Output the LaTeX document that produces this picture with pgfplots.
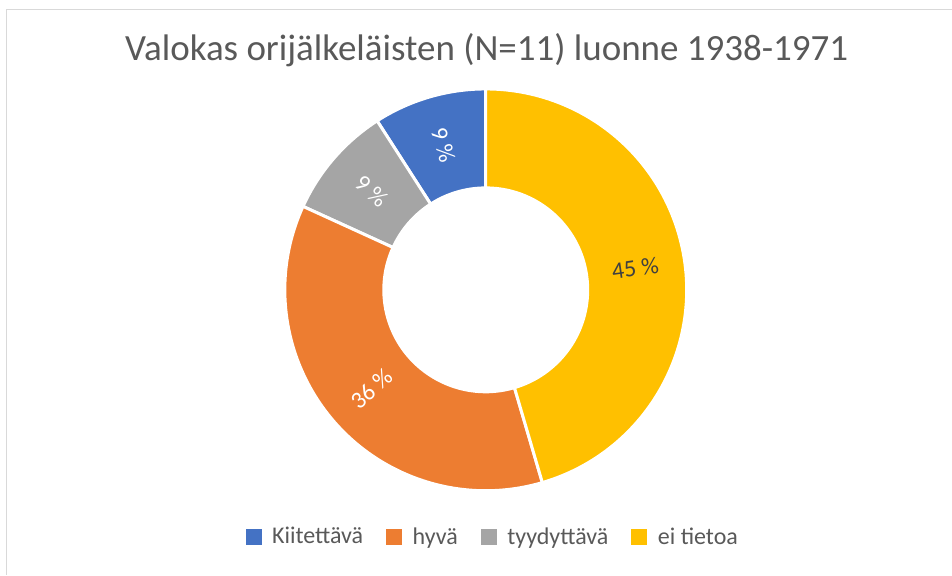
\documentclass[border=0pt]{standalone}
\usepackage{pgfplots}
\pgfplotsset{compat=1.18}
\usepackage{pgfplotstable}
\usepackage{fontspec}
\setmainfont{Carlito}
\usetikzlibrary{calc}

\definecolor{cKii}{HTML}{4472C4}
\definecolor{cHyv}{HTML}{ED7D31}
\definecolor{cTyy}{HTML}{A5A5A5}
\definecolor{cEi}{HTML}{FFC000}
\definecolor{cTxt}{HTML}{595959}
\definecolor{cLab}{HTML}{404040}
\definecolor{cRaja}{HTML}{D9D9D9}

% sektorit vastapäivään klo 12:sta alkaen
\pgfplotstableread{
nimi value fillc textc
Kiitettava 1 cKii white
tyydyttava 1 cTyy white
hyva 4 cHyv white
eitietoa 5 cEi cLab
}\sektorit

\tikzset{pct/.style={font=\fontsize{18}{21}\selectfont}}

\begin{document}
\begin{tikzpicture}
\def\total{0}
\pgfplotsforeachungrouped \i in {0,...,3}{%
  \pgfplotstablegetelem{\i}{value}\of\sektorit
  \pgfmathsetmacro\total{\total+\pgfplotsretval}%
}
\def\Rout{150.75pt}\def\Rin{76.5pt}\def\Rmid{113.25pt}
\begin{axis}[x=0.75pt, y=0.75pt, xmin=0, xmax=952, ymin=0, ymax=575,
    hide axis, clip=false,
    legend columns=4,
    legend image code/.code={\fill[#1] (0pt,-5.6pt) rectangle (11.25pt,5.6pt);},
    legend style={draw=none, fill=none, at={(axis cs:492,38)}, anchor=center,
        font=\fontsize{18}{21}\selectfont, text=cTxt,
        nodes={inner sep=0pt},
        /tikz/every even column/.append style={column sep=17.25pt},
        /tikz/every odd column/.append style={column sep=8.25pt}}]
\path (axis cs:0,0) rectangle (axis cs:952,575);
\draw[cRaja, line width=0.75pt] (axis cs:952,565.5) -- (axis cs:6.5,565.5) -- (axis cs:6.5,0);
\node[text=cTxt, font=\fontsize{27.75}{33}\selectfont] at (axis cs:487,525)
    {Valokas orijälkeläisten (N=11) luonne 1938-1971};
\def\astart{90}
\pgfplotsforeachungrouped \i in {0,...,3}{%
  \pgfplotstablegetelem{\i}{value}\of\sektorit \let\v\pgfplotsretval
  \pgfplotstablegetelem{\i}{fillc}\of\sektorit \let\fc\pgfplotsretval
  \pgfplotstablegetelem{\i}{textc}\of\sektorit \let\tc\pgfplotsretval
  \pgfmathsetmacro\aend{\astart+360*\v/\total}%
  \pgfmathsetmacro\amid{(\astart+\aend)/2}%
  \pgfmathsetmacro\rot{ifthenelse(\amid>90 && \amid<270, \amid-180, \amid)}%
  \pgfmathtruncatemacro\pct{round(100*\v/\total)}%
  \edef\temp{%
    \noexpand\fill[\fc, draw=white, line width=2.25pt, line join=round]
      ($(axis cs:486,285)+(\astart:\Rout)$) arc[start angle=\astart, end angle=\aend, radius=\Rout]
      -- ($(axis cs:486,285)+(\aend:\Rin)$) arc[start angle=\aend, end angle=\astart, radius=\Rin] -- cycle;
    \noexpand\node[pct, text=\tc, rotate=\rot] at ($(axis cs:486,285)+(\amid:\Rmid)$) {\pct\noexpand~\noexpand\%};
  }\temp
  \let\astart\aend
}
\addlegendimage{cKii}\addlegendentry{Kiitettävä}
\addlegendimage{cHyv}\addlegendentry{hyvä}
\addlegendimage{cTyy}\addlegendentry{tyydyttävä}
\addlegendimage{cEi}\addlegendentry{ei tietoa}
\end{axis}
\end{tikzpicture}
\end{document}
